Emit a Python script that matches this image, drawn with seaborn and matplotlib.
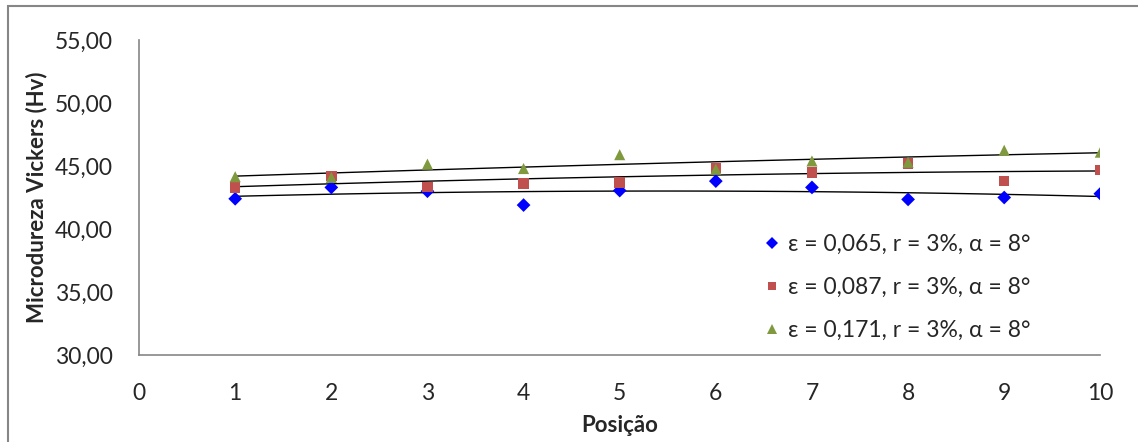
import numpy as np
import pandas as pd
import matplotlib
matplotlib.use("Agg")
import matplotlib.pyplot as plt
import seaborn as sns
from matplotlib.patches import Rectangle

# posicoes medidas
posicao = [1, 2, 3, 4, 5, 6, 7, 8, 9, 10]

# microdureza para cada deformacao
hv_065 = [42.4, 43.3, 43.0, 41.9, 43.05, 43.8, 43.3, 42.35, 42.5, 42.8]
hv_087 = [43.3, 44.2, 43.35, 43.6, 43.7, 44.85, 44.5, 45.2, 43.8, 44.7]
hv_171 = [44.15, 44.1, 45.15, 44.8, 45.9, 44.75, 45.4, 45.3, 46.25, 46.1]

labels = ["ε = 0,065, r = 3%, α = 8°",
          "ε = 0,087, r = 3%, α = 8°",
          "ε = 0,171, r = 3%, α = 8°"]

sns.set_style("white")
plt.rcParams["font.family"] = ["Lato", "DejaVu Sans"]

fig = plt.figure(figsize=(11.38, 4.42), dpi=100)
ax = fig.add_axes([0.1222, 0.1968, 0.8447, 0.7127])

series = [
    (hv_065, "D", "#0000FF", 7),
    (hv_087, "s", "#C0504D", 7.5),
    (hv_171, "^", "#7F9A3E", 8),
]

handles = []
for (vals, mk, col, ms), lab in zip(series, labels):
    df = pd.DataFrame({"x": posicao, "y": vals})
    # trend line (polinomial 2a ordem)
    sns.regplot(data=df, x="x", y="y", order=2, ci=None, scatter=False,
                line_kws={"color": "black", "lw": 1.0}, ax=ax)
    sns.scatterplot(data=df, x="x", y="y", marker=mk, color=col,
                    s=ms ** 2, edgecolor="none", ax=ax, zorder=3)
    handles.append(plt.Line2D([], [], marker=mk, color=col, ls="none",
                              markersize=ms * 0.85, markeredgewidth=0))

ax.set_xlim(0, 10)
ax.set_ylim(30, 55)
ax.set_xticks(range(0, 11))
ax.set_yticks(np.arange(30, 56, 5))
ax.set_yticklabels([f"{v:.2f}".replace(".", ",") for v in np.arange(30, 56, 5)])
ax.tick_params(axis="both", labelsize=16.5, length=0)
ax.tick_params(axis="y", pad=19)
ax.tick_params(axis="x", pad=20)

ax.set_xlabel("Posição", fontsize=16, fontweight="bold", labelpad=8)
ax.set_ylabel("Microdureza Vickers (Hv)", fontsize=16, fontweight="bold", labelpad=5)

for side in ["top", "right"]:
    ax.spines[side].set_visible(False)
for side in ["left", "bottom"]:
    ax.spines[side].set_color("#868686")
    ax.spines[side].set_linewidth(1.2)

ax.legend(handles, labels, loc="center left", bbox_to_anchor=(0.63, 0.215),
          frameon=False, fontsize=16.5, handlelength=0.6, handletextpad=0.4,
          labelspacing=0.95)

# moldura do grafico
fig.patches.append(Rectangle((8 / 1138, -0.1), 1.2, (442 - 6) / 442 + 0.1,
                             transform=fig.transFigure, fill=False,
                             edgecolor="#868686", lw=1.5))

fig.savefig("out.png", dpi=100)
